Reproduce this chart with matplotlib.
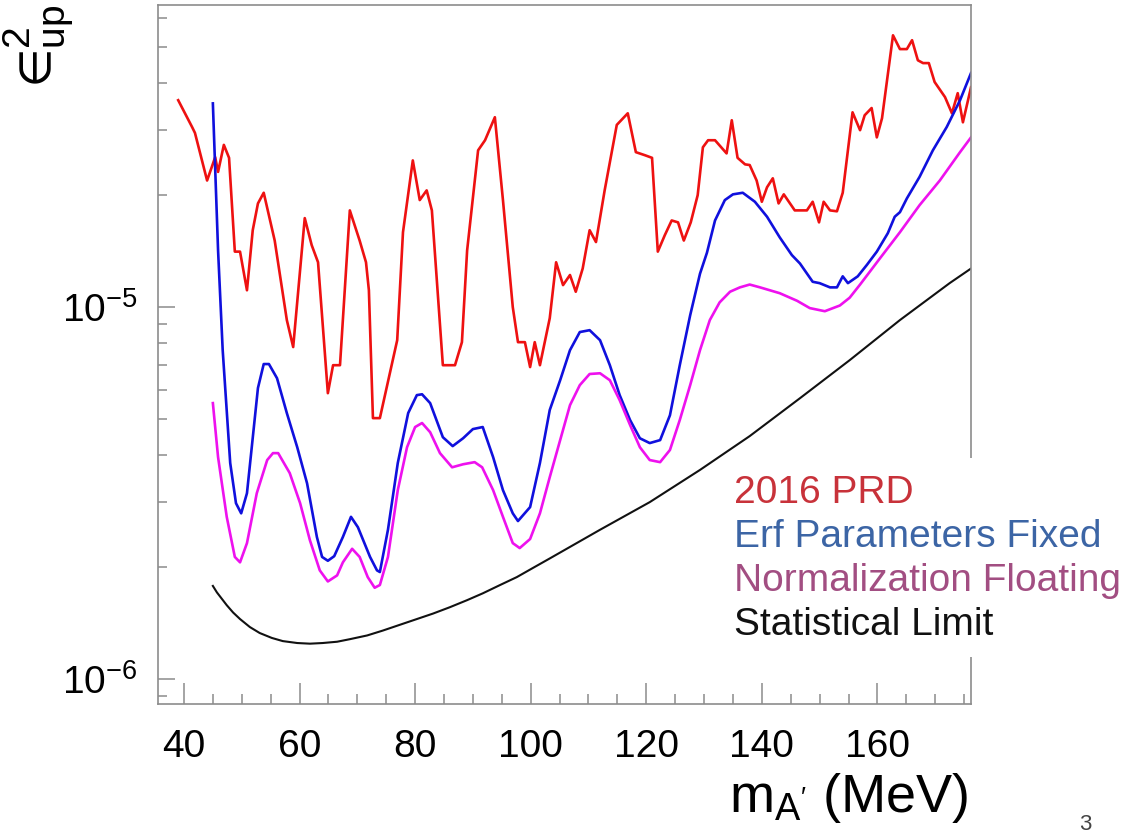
import numpy as np
import matplotlib
matplotlib.use('Agg')
import matplotlib.pyplot as plt
from matplotlib.ticker import MultipleLocator, FixedLocator, FuncFormatter, NullFormatter
from matplotlib.patches import Rectangle

plt.rcParams['font.family'] = ['Liberation Sans', 'DejaVu Sans']
plt.rcParams['mathtext.fontset'] = 'custom'
plt.rcParams['mathtext.rm'] = 'Liberation Sans'
plt.rcParams['mathtext.it'] = 'Liberation Sans:italic'
plt.rcParams['mathtext.bf'] = 'Liberation Sans:bold'

# ── Data ──────────────────────────────────────────────────────
# 2016 PRD limit, eps^2 in units of 1e-5
prd_mass = [39.0, 41.4, 41.9, 44.0, 45.4, 45.9, 46.9, 47.8, 48.8, 49.7, 50.9, 51.9,
            52.8, 53.8, 55.7, 57.8, 58.9, 60.9, 62.1, 63.2, 64.9, 65.8, 67.0, 68.7,
            70.4, 71.5, 72.0, 72.7, 73.9, 76.9, 77.9, 79.6, 80.8, 82.0, 82.9, 84.8,
            86.9, 88.1, 89.0, 90.9, 92.1, 93.8, 95.2, 96.9, 97.8, 99.0, 99.9, 100.7,
            101.6, 103.3, 104.4, 105.6, 106.8, 107.8, 109.0, 110.2, 111.3, 112.8,
            114.9, 116.8, 118.2, 119.8, 121.0, 122.0, 123.2, 124.4, 125.5, 126.5,
            127.7, 128.9, 129.8, 130.7, 131.9, 133.9, 134.8, 135.8, 137.1, 137.9,
            139.1, 140.0, 140.9, 141.9, 142.9, 143.8, 145.7, 147.8, 148.8, 149.9,
            150.7, 151.8, 153.0, 154.0, 155.7, 157.0, 157.8, 159.0, 159.9, 160.8,
            162.7, 163.9, 165.1, 166.0, 167.0, 167.9, 168.9, 169.9, 171.7, 172.9,
            173.9, 174.8, 176.2]
prd_eps2 = [3.60, 3.05, 2.94, 2.19, 2.53, 2.31, 2.73, 2.52, 1.41, 1.41, 1.11, 1.61,
            1.90, 2.03, 1.51, 0.923, 0.781, 1.735, 1.468, 1.32, 0.587, 0.698, 0.698, 1.82,
            1.51, 1.32, 1.11, 0.503, 0.503, 0.815, 1.59, 2.48, 1.94, 2.06, 1.82, 0.698,
            0.698, 0.805, 1.42, 2.64, 2.81, 3.24, 1.94, 1.0, 0.805, 0.805, 0.690, 0.805,
            0.698, 0.934, 1.32, 1.146, 1.22, 1.10, 1.27, 1.61, 1.496, 2.06,
            3.09, 3.32, 2.61, 2.56, 2.52, 1.41, 1.56, 1.71, 1.69, 1.51,
            1.69, 2.0, 2.69, 2.81, 2.81, 2.59, 3.18, 2.52, 2.42, 2.41,
            2.19, 1.92, 2.10, 2.22, 1.90, 2.01, 1.82, 1.82, 1.92, 1.69,
            1.92, 1.82, 1.81, 2.03, 3.34, 2.99, 3.28, 3.43, 2.86, 3.22,
            5.38, 4.94, 4.94, 5.22, 4.61, 4.53, 4.53, 4.03, 3.67, 3.32,
            3.76, 3.14, 3.90]

# Erf parameters fixed, eps^2 in units of 1e-6
erf_mass = [45.0, 45.9, 46.7, 48.0, 49.0, 49.9, 50.9, 52.8, 53.8, 54.7, 56.1, 57.8,
            59.6, 61.3, 63.0, 63.9, 64.9, 66.0, 67.5, 68.9, 70.1, 72.2, 73.4, 73.9,
            75.3, 77.0, 78.8, 80.3, 81.2, 82.6, 84.8, 86.5, 88.3, 90.0, 91.7, 93.5,
            95.2, 96.9, 97.8, 99.9, 101.6, 103.3, 105.1, 106.8, 108.5, 110.2, 112.0,
            113.7, 115.4, 117.2, 118.9, 120.6, 122.4, 124.1, 125.8, 127.6, 129.3,
            130.5, 131.9, 133.6, 135.0, 136.7, 138.8, 140.9, 143.1, 145.2, 146.6,
            148.8, 150.0, 151.8, 153.0, 154.0, 154.9, 156.6, 158.2, 159.9, 161.8,
            163.0, 163.9, 165.1, 167.3, 169.6, 172.0, 174.3, 176.2]
erf_eps2 = [35.3, 14.2, 7.66, 3.81, 2.97, 2.79, 3.16, 6.06, 7.03, 7.03, 6.44, 5.19,
            4.20, 3.36, 2.41, 2.13, 2.08, 2.14, 2.41, 2.73, 2.56, 2.13, 1.96, 1.94,
            2.52, 3.81, 5.19, 5.80, 5.83, 5.52, 4.47, 4.23, 4.44, 4.70, 4.76, 3.95,
            3.22, 2.79, 2.66, 2.90, 3.81, 5.29, 6.36, 7.66, 8.57, 8.67, 8.15,
            6.98, 5.80, 4.97, 4.44, 4.31, 4.39, 5.12, 6.98, 9.51, 12.3,
            14.0, 17.1, 19.4, 20.1, 20.3, 19.2, 17.5, 15.4, 13.8, 13.1,
            11.7, 11.6, 11.3, 11.3, 12.1, 11.6, 12.1, 13.0, 14.1, 15.8,
            17.5, 18.0, 19.6, 22.4, 26.4, 30.5, 36.0, 42.6]

# Normalization floating, eps^2 in units of 1e-6
norm_mass = [45.0, 45.9, 47.4, 48.8, 49.7, 50.9, 52.6, 54.4, 55.4, 56.3, 58.3, 60.1,
             61.8, 63.5, 64.9, 66.5, 67.5, 69.1, 70.4, 71.8, 73.0, 73.9, 75.3, 77.0,
             78.6, 80.0, 81.2, 82.6, 84.3, 86.4, 88.3, 90.3, 91.6, 93.5, 95.2, 96.9,
             98.1, 99.9, 101.6, 103.3, 105.1, 106.8, 108.5, 110.2, 112.0, 113.7, 115.4,
             117.2, 118.9, 120.6, 122.4, 124.1, 125.8, 127.6, 129.3, 131.0, 132.7,
             134.5, 136.2, 137.9, 139.7, 143.1, 146.1, 148.3, 150.9, 153.5, 155.2,
             157.0, 160.4, 163.9, 167.3, 170.8, 174.3, 176.2]
norm_eps2 = [5.52, 3.95, 2.73, 2.13, 2.06, 2.32, 3.16, 3.88, 4.05, 4.05, 3.58, 2.97,
             2.36, 1.96, 1.83, 1.90, 2.06, 2.24, 2.13, 1.88, 1.76, 1.79, 2.13, 3.22,
             4.20, 4.76, 4.88, 4.61, 4.05, 3.71, 3.78, 3.83, 3.71, 3.22, 2.73, 2.32,
             2.25, 2.38, 2.79, 3.49, 4.39, 5.45, 6.17, 6.61, 6.64, 6.36, 5.62,
             4.82, 4.20, 3.88, 3.83, 4.13, 4.97, 6.17, 7.66, 9.23, 10.3,
             11.0, 11.3, 11.5, 11.3, 10.9, 10.4, 9.94, 9.75, 10.1, 10.6,
             11.5, 13.5, 15.9, 18.8, 21.9, 26.1, 28.6]

# Statistical limit, eps^2 in units of 1e-6
stat_mass = [45.0, 45.7, 47.4, 48.5, 49.7, 51.4, 53.1, 55.2, 57.1, 59.6, 61.8, 64.0,
             66.5, 68.7, 71.7, 74.4, 77.4, 80.3, 83.1, 86.0, 89.0, 91.7, 94.7, 97.6,
             100.4, 103.3, 112.0, 120.6, 129.3, 137.9, 146.6, 155.2, 163.9, 172.5, 176.2]
stat_eps2 = [1.78, 1.71, 1.58, 1.51, 1.45, 1.38, 1.33, 1.29, 1.265, 1.25, 1.245, 1.25,
             1.26, 1.28, 1.31, 1.35, 1.40, 1.45, 1.50, 1.56, 1.63, 1.70, 1.79, 1.88,
             1.99, 2.11, 2.52, 2.99, 3.65, 4.50, 5.69, 7.20, 9.23, 11.6, 12.7]

legend_labels = ['2016 PRD', 'Erf Parameters Fixed', 'Normalization Floating',
                 'Statistical Limit']
legend_colours = ['#c8323a', '#3c65a5', '#a24e82', '#111111']

# ── Figure ────────────────────────────────────────────────────
fig = plt.figure(figsize=(11.3, 8.36), dpi=100)
ax = fig.add_axes([0.1398, 0.1579, 0.7195, 0.8361])

ax.plot(prd_mass, np.array(prd_eps2) * 1e-5, color='#ee1111', lw=1.9)
ax.plot(erf_mass, np.array(erf_eps2) * 1e-6, color='#1010dd', lw=1.9)
ax.plot(norm_mass, np.array(norm_eps2) * 1e-6, color='#ee11ee', lw=1.9)
ax.plot(stat_mass, np.array(stat_eps2) * 1e-6, color='#111111', lw=1.5)

ax.set_yscale('log')
ax.set_xlim(35.5, 176.2)
ax.set_ylim(8.57e-7, 6.49e-5)

# ROOT-like axes: grey frame, inward ticks on left/bottom only
for s in ax.spines.values():
    s.set_color('#8c8c8c')
    s.set_linewidth(1.2)

ax.xaxis.set_major_locator(MultipleLocator(20))
ax.xaxis.set_minor_locator(MultipleLocator(5))
ax.yaxis.set_major_locator(FixedLocator([1e-6, 1e-5]))
ax.yaxis.set_minor_locator(FixedLocator([9e-7] + [k * 1e-6 for k in range(2, 10)]
                                        + [k * 1e-5 for k in range(2, 7)]))
ax.yaxis.set_major_formatter(FuncFormatter(
    lambda v, p: r'$\mathregular{10^{%d}}$' % round(np.log10(v))))
ax.yaxis.set_minor_formatter(NullFormatter())

ax.tick_params(axis='x', which='major', direction='in', length=15, width=1.1,
               color='#8c8c8c', labelsize=28, pad=18)
ax.tick_params(axis='x', which='minor', direction='in', length=7, width=1.1,
               color='#8c8c8c')
ax.tick_params(axis='y', which='major', direction='in', length=12, width=1.1,
               color='#8c8c8c', labelsize=28, pad=15)
ax.tick_params(axis='y', which='minor', direction='in', length=6.5, width=1.1,
               color='#8c8c8c')

# legend box (plain coloured text on white, overlapping the frame)
fig.patches.append(Rectangle((0.639, 0.214), 0.361, 0.238, transform=fig.transFigure,
                             facecolor='white', edgecolor='none', zorder=5))
for i, (lab, col) in enumerate(zip(legend_labels, legend_colours)):
    fig.text(0.650, 0.398 - i * 0.0525, lab, color=col, fontsize=28,
             va='baseline', ha='left', zorder=6)

fig.text(0.857, 0.029, r"$\mathregular{m_{A'}}$ (MeV)", fontsize=39,
         ha='right', va='baseline')
fig.text(0.034, 0.994, '$\u2208^{2}_{\\mathregular{up}}$', fontsize=40,
         rotation=90, ha='center', va='top')
fig.text(0.960, 0.007, '3', fontsize=16, color='#444444', ha='center', va='baseline')

fig.savefig('out.png', dpi=100)
